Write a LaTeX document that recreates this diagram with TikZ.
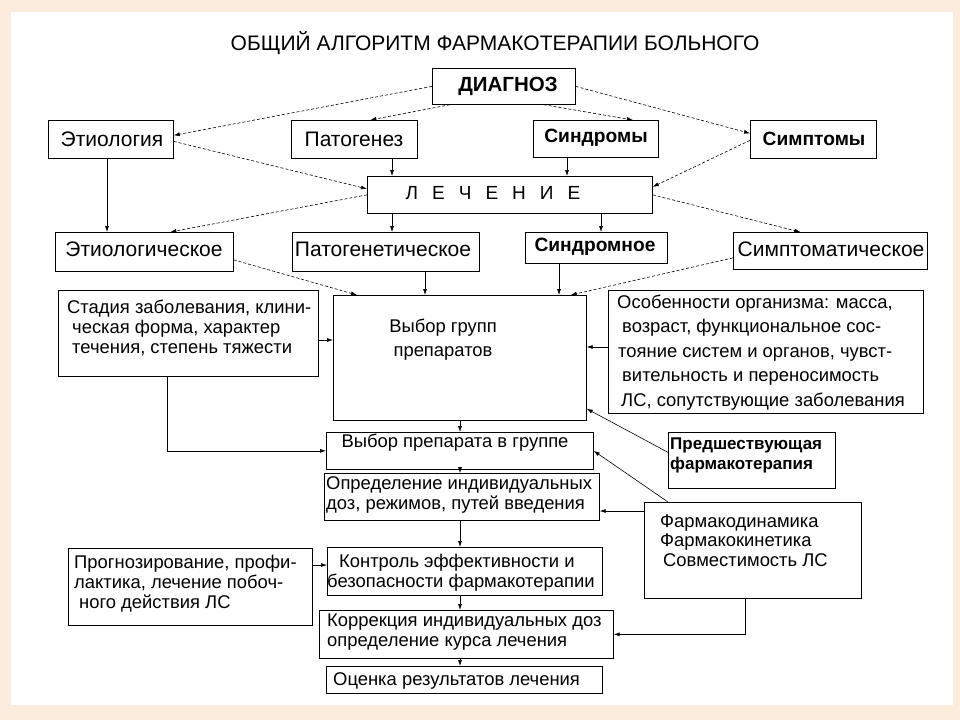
\documentclass[tikz,border=0pt]{standalone}
\usepackage{fontspec}
\setmainfont{Liberation Sans}
\usetikzlibrary{arrows.meta}
\definecolor{peach}{RGB}{252,236,222}
\newcommand\mybox[5]{\node[box, minimum width={(#4-#2)*1pt}, minimum height={(#5-#3)*1pt}] (#1) at (#2,#3) {};}
\begin{document}
\begin{tikzpicture}[x=1pt,y=-1pt,
  box/.style={draw, line width=0.7pt, inner sep=0pt, anchor=north west},
  txt/.style={inner sep=0pt, font=\fontsize{18.4}{20}\selectfont},
  big/.style={inner sep=0pt, font=\fontsize{21}{24}\selectfont},
  bigb/.style={inner sep=0pt, font=\fontsize{19.2}{22}\selectfont\bfseries},
  mtxt/.style={txt, align=left, anchor=base west},
  arr/.style={-{Latex[length=6pt,width=4pt]}, line width=0.6pt},
  dsh/.style={arr, dash pattern=on 3pt off 2pt}]
\fill[peach] (0,0) rectangle (960,720);
\fill[white] (11,12) rectangle (953,705);
\useasboundingbox (0,0) rectangle (960,720);

\node[inner sep=0pt, font=\fontsize{21}{24}\selectfont] (title) at (495,43) {ОБЩИЙ АЛГОРИТМ ФАРМАКОТЕРАПИИ БОЛЬНОГО};

% boxes
\mybox{diag}{432}{68}{575}{104}
\mybox{etio}{48}{120}{173}{158}
\mybox{pato}{291}{120}{417}{158}
\mybox{synd}{533}{120}{658}{157}
\mybox{symp}{750}{120}{876}{158}
\mybox{lech}{367}{176}{652}{213}
\mybox{etio2}{55}{232}{233}{271}
\mybox{pato2}{292}{232}{479}{271}
\mybox{synd2}{525}{232}{667}{263}
\mybox{symp2}{733}{232}{927}{269}
\mybox{stad}{58}{290}{318}{376}
\mybox{vybor}{333}{295}{586}{420}
\mybox{osob}{608}{290}{923}{413}
\mybox{pred}{668}{432}{835}{488}
\mybox{vprep}{326}{432}{593}{469}
\mybox{opred}{324}{473}{599}{520}
\mybox{pharm}{644}{502}{861}{598}
\mybox{prog}{68}{548}{312}{625}
\mybox{kontr}{327}{547}{602}{595}
\mybox{korr}{319}{610}{613}{658}
\mybox{ocen}{326}{666}{602}{693}

% texts
\node[inner sep=0pt, font=\fontsize{20.5}{24}\selectfont\bfseries] (tdiag) at (508,86) {ДИАГНОЗ};
\node[big] (tetio) at (112,139) {Этиология};
\node[big] (tpato) at (354,139) {Патогенез};
\node[bigb] (tsynd) at (596,138) {Синдромы};
\node[bigb] (tsymp) at (814,139) {Симптомы};
\node[inner sep=0pt, font=\fontsize{19}{22}\selectfont] (tlech) at (493,193) {Л\hspace{14pt}Е\hspace{14pt}Ч\hspace{14pt}Е\hspace{14pt}Н\hspace{14pt}И\hspace{14pt}Е};
\node[big] (tetio2) at (144,249) {Этиологическое};
\node[big] (tpato2) at (383,249) {Патогенетическое};
\node[bigb] (tsynd2) at (595,247) {Синдромное};
\node[big] (tsymp2) at (831,249) {Симптоматическое};
\node[mtxt] (tstad) at (67,353) {Стадия заболевания, клини-\\\hspace{5pt}ческая форма, характер\\\hspace{5pt}течения, степень тяжести};
\node[txt, align=center, font=\fontsize{18.4}{24}\selectfont, anchor=base] (tvybor) at (443,356) {Выбор групп\\препаратов};
\node[mtxt, font=\fontsize{18.4}{24.5}\selectfont] (tosob) at (617,406) {Особенности организма: масса,\\\hspace{5pt}возраст, функциональное сос-\\\hspace{1pt}тояние систем и органов, чувст-\\\hspace{5pt}вительность и переносимость\\\hspace{4pt}ЛС, сопутствующие заболевания};
\node[mtxt, font=\fontsize{17}{20}\selectfont\bfseries] (tpred) at (670,469) {Предшествующая\\фармакотерапия};
\node[txt] (tvprep) at (455,443) {Выбор препарата в группе};
\node[mtxt] (topred) at (326,509) {Определение индивидуальных\\доз, режимов, путей введения};
\node[mtxt, font=\fontsize{18.4}{19.5}\selectfont] (tpharm) at (660,566) {Фармакодинамика\\Фармакокинетика\\\hspace{3pt}Совместимость ЛС};
\node[mtxt] (tprog) at (74,608) {Прогнозирование, профи-\\лактика, лечение побоч-\\\hspace{5pt}ного действия ЛС};
\node[mtxt] (tkontr) at (327,587) {\hspace{12pt}Контроль эффективности и\\безопасности фармакотерапии};
\node[mtxt] (tkorr) at (327,646) {Коррекция индивидуальных доз\\определение курса лечения};
\node[txt, anchor=west] (tocen) at (333,681) {Оценка результатов лечения};

% helper coordinates
\coordinate (x107) at (107,0);
\coordinate (x167) at (167,0);
\coordinate (x392) at (392,0);
\coordinate (x425) at (425,0);
\coordinate (x460) at (460,0);
\coordinate (x559) at (559,0);
\coordinate (x567) at (567,0);
\coordinate (x601) at (601,0);
\coordinate (x745) at (745,0);
\coordinate (y340) at (0,340);
\coordinate (y347) at (0,347);
\coordinate (y511) at (0,511);
\coordinate (y565) at (0,565);

% connectors
\draw[dsh] (diag.west) -- ([yshift=4pt]etio.east);
\draw[dsh] ([xshift=18pt]diag.south west) -- ([xshift=16pt]pato.north);
\draw[dsh] ([xshift=-32pt]diag.south east) -- ([xshift=37pt]synd.north);
\draw[dsh] (diag.east) -- ([yshift=6pt]symp.west);
\draw[dsh] ([yshift=-2pt]etio.east) -- ([yshift=6pt]lech.west);
\draw[arr] (pato.south -| x392) -- (lech.north -| x392);
\draw[arr] (synd.south -| x567) -- (lech.north -| x567);
\draw[dsh] ([yshift=-1pt]symp.west) -- ([yshift=8pt]lech.east);
\draw[dsh] (lech.west) -- ([xshift=26pt]etio2.north);
\draw[arr] (etio.south -| x107) -- (etio2.north -| x107);
\draw[arr] (lech.south -| x392) -- (pato2.north -| x392);
\draw[arr] (lech.south -| x601) -- (synd2.north -| x601);
\draw[dsh] (lech.east) -- ([xshift=-30pt]symp2.north);
\draw[dsh] ([yshift=-8pt]etio2.east) -- ([xshift=24pt]vybor.north west);
\draw[arr] (pato2.south -| x425) -- (vybor.north -| x425);
\draw[arr] (synd2.south -| x559) -- (vybor.north -| x559);
\draw[dsh] ([yshift=-7pt]symp2.west) -- ([xshift=-16pt]vybor.north east);
\draw[arr] (stad.east |- y340) -- (vybor.west |- y340);
\draw[arr] (osob.west |- y347) -- (vybor.east |- y347);
\draw[arr] (vybor.south -| x460) -- (vprep.north -| x460);
\draw[arr] ([yshift=8pt]pred.west) -- ([yshift=12pt]vybor.south east);
\draw[arr] (stad.south -| x167) |- (vprep.west);
\draw[arr] (vprep.south -| x460) -- (opred.north -| x460);
\draw[arr] (pharm.west |- y511) -- (opred.east |- y511);
\draw[arr] ([xshift=24pt]pharm.north west) -- (vprep.east);
\draw[arr] (pharm.south -| x745) |- (korr.east);
\draw[arr] (opred.south -| x460) -- (kontr.north -| x460);
\draw[arr] (prog.east |- y565) -- (kontr.west |- y565);
\draw[arr] (kontr.south -| x460) -- (korr.north -| x460);
\draw[arr] (korr.south -| x460) -- (ocen.north -| x460);
\end{tikzpicture}
\end{document}
